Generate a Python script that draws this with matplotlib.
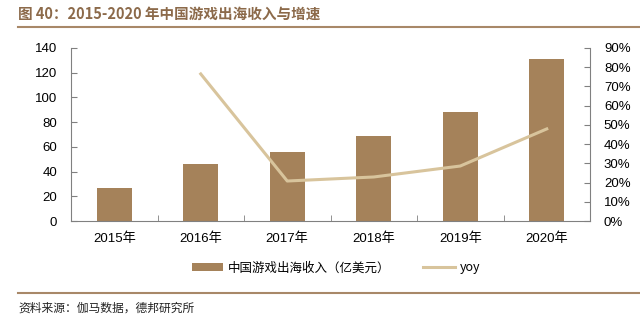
import matplotlib
matplotlib.use("Agg")
import matplotlib.pyplot as plt
from matplotlib.lines import Line2D
from matplotlib.patches import Patch
import numpy as np

plt.rcParams['font.family'] = ['Liberation Sans', 'Noto Sans CJK SC', 'DejaVu Sans']

categories = ['2015年', '2016年', '2017年', '2018年', '2019年', '2020年']
revenue = [26.5, 46.2, 56.0, 69.0, 88.5, 131.5]
yoy = [None, 76.5, 20.8, 22.9, 28.6, 47.9]

left_ticks = [0, 20, 40, 60, 80, 100, 120, 140]
right_ticks = [0, 10, 20, 30, 40, 50, 60, 70, 80, 90]

bar_color = '#A5825A'
line_color = '#D8C49C'
title_color = '#8C6A4A'
axis_color = '#808080'

fig = plt.figure(figsize=(6.4, 3.23), dpi=100)
ax = fig.add_axes([71/640, 1-221/323, (590-71)/640, (221-48)/323])
x = np.arange(len(categories))
ax.bar(x, revenue, width=0.4, color=bar_color, zorder=2)
ax.set_xlim(-0.5, len(categories)-0.5)
ax.set_ylim(0, 140)
ax.set_yticks(left_ticks)
ax.set_xticks(x)
ax.set_xticklabels(categories, fontsize=9.5, family=['Liberation Sans', 'Noto Sans CJK SC'])
ax.set_xticks(np.arange(len(categories)+1) - 0.5, minor=True)
ax.tick_params(axis='x', which='major', length=0, pad=8)
ax.tick_params(axis='x', which='minor', direction='in', length=4, color=axis_color)
ax.tick_params(axis='y', direction='in', length=4, color=axis_color, labelsize=9.5, pad=10)
for s in ['top', 'right']:
    ax.spines[s].set_visible(False)
for s in ['left', 'bottom']:
    ax.spines[s].set_color(axis_color)
    ax.spines[s].set_linewidth(0.8)

ax2 = ax.twinx()
xs = [i for i, v in enumerate(yoy) if v is not None]
ys = [v for v in yoy if v is not None]
ax2.plot(xs, ys, color=line_color, linewidth=2.2, zorder=3)
ax2.set_ylim(0, 90)
ax2.set_yticks(right_ticks)
ax2.set_yticklabels([f'{t}%' for t in right_ticks])
ax2.tick_params(axis='y', direction='in', length=4, color=axis_color, labelsize=9.5, pad=10)
for s in ['top', 'left', 'bottom']:
    ax2.spines[s].set_visible(False)
ax2.spines['right'].set_color(axis_color)
ax2.spines['right'].set_linewidth(0.8)

handles = [Patch(facecolor=bar_color, edgecolor='none'),
           Line2D([0], [0], color=line_color, linewidth=2.2)]
labels = ['中国游戏出海收入（亿美元）', 'yoy']
fig.legend(handles, labels, loc='center', bbox_to_anchor=(336/640, 1-268/323), ncol=2,
           frameon=False, prop={'family': ['Noto Sans CJK SC', 'DejaVu Sans'], 'size': 9},
           handlelength=2.5, handleheight=0.6, columnspacing=2.6, handletextpad=0.4)

fig.text(18/640, 1-14/323, '图 40：2015-2020 年中国游戏出海收入与增速', fontsize=10.5, fontweight='bold',
         color=title_color, va='center', ha='left', family=['Noto Sans CJK SC', 'DejaVu Sans'])
fig.add_artist(Line2D([18/640, 1.0], [1-27/323, 1-27/323], color='#A88868', linewidth=1.5))
fig.add_artist(Line2D([18/640, 1.0], [1-293/323, 1-293/323], color='#A88868', linewidth=1.5))
fig.text(18/640, 1-308/323, '资料来源：伽马数据，德邦研究所', fontsize=8.5, color='#222222',
         va='center', ha='left', family=['Noto Sans CJK SC', 'DejaVu Sans'])

fig.savefig('out.png', dpi=100)
